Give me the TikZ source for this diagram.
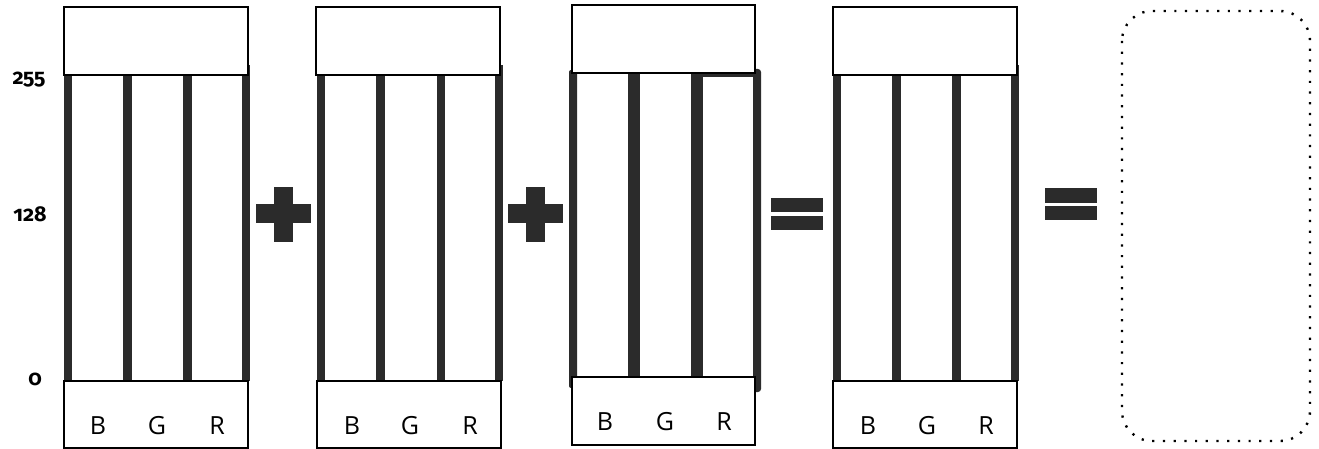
\documentclass[tikz,border=0pt]{standalone}
\usepackage{fontspec}
\setmainfont{Open Sans}
\newfontfamily\numfont[Numbers=OldStyle]{Fira Sans}
\begin{document}
\begin{tikzpicture}[x=1pt,y=-1pt,
  barfill/.style={fill=barc},
  topbox/.style={draw=black,line width=1.5pt,fill=white},
  chan/.style={anchor=base,font=\fontsize{25}{25}\selectfont,inner sep=0pt},
  axis/.style={anchor=base,font=\numfont\bfseries\fontsize{21.5}{21.5}\selectfont,inner sep=0pt},
  opfill/.style={fill=barc}]
\definecolor{barc}{HTML}{2B2B2B}
\useasboundingbox (0,0) rectangle (1319,449);
% ---------- panel 1
\fill[barfill] (64,74) rectangle (72,381);
\fill[barfill] (123,74) rectangle (132,381);
\fill[barfill] (183,74) rectangle (192,381);
\fill[barfill] (242,65) rectangle (250,381);
\draw[topbox] (64,7) rectangle (248,75);
\draw[topbox] (64,381) rectangle (248,448);
\node[chan] (b1) at (98,434) {B};
\node[chan] (g1) at (157,434) {G};
\node[chan] (r1) at (217,434) {R};
% ---------- panel 2
\fill[barfill] (317,74) rectangle (325,381);
\fill[barfill] (376,74) rectangle (385,381);
\fill[barfill] (437,74) rectangle (445,381);
\fill[barfill] (495,65) rectangle (503,381);
\draw[topbox] (316,7) rectangle (500,75);
\draw[topbox] (317,381) rectangle (501,448);
\node[chan] (b2) at (352,434) {B};
\node[chan] (g2) at (410,434) {G};
\node[chan] (r2) at (470,434) {R};
% ---------- panel 3
\fill[barfill,rounded corners=2pt] (569,70) rectangle (577,388);
\fill[barfill] (628,73) rectangle (640,378);
\fill[barfill] (691,73) rectangle (703,378);
\fill[barfill] (703,73) rectangle (757,77);
\fill[barfill,rounded corners=3pt] (753,69) rectangle (761,392);
\draw[topbox] (572,5) rectangle (755,73);
\draw[topbox] (572,377) rectangle (755,445);
\node[chan] (b3) at (605,430) {B};
\node[chan] (g3) at (665,430) {G};
\node[chan] (r3) at (724,430) {R};
% ---------- panel 4
\fill[barfill] (833,74) rectangle (841,381);
\fill[barfill] (892,74) rectangle (901,381);
\fill[barfill] (952,74) rectangle (961,381);
\fill[barfill] (1011,65) rectangle (1019,381);
\draw[topbox] (833,7) rectangle (1017,75);
\draw[topbox] (833,381) rectangle (1017,448);
\node[chan] (b4) at (868,434) {B};
\node[chan] (g4) at (927,434) {G};
\node[chan] (r4) at (986,434) {R};
% ---------- axis labels
\node[axis] (l255) at (29,85) {255};
\node[axis] (l128) at (30,222) {128};
\node[axis] (l0) at (35,385) {0};
% ---------- plus signs
\fill[opfill] (256,204) rectangle (311,223);
\fill[opfill] (274,187) rectangle (293,242);
\fill[opfill] (508,204) rectangle (563,223);
\fill[opfill] (526,187) rectangle (545,242);
% ---------- equals signs
\fill[opfill] (771,198) rectangle (823,212);
\fill[opfill] (771,216) rectangle (823,230);
\fill[opfill] (1045,188) rectangle (1097,203);
\fill[opfill] (1045,206) rectangle (1097,220);
% ---------- dotted result box
\draw[black,line width=2.4pt,dash pattern=on 2.2pt off 8.5pt,rounded corners=30pt]
  (1122,11) rectangle (1310,441);
\end{tikzpicture}
\end{document}
